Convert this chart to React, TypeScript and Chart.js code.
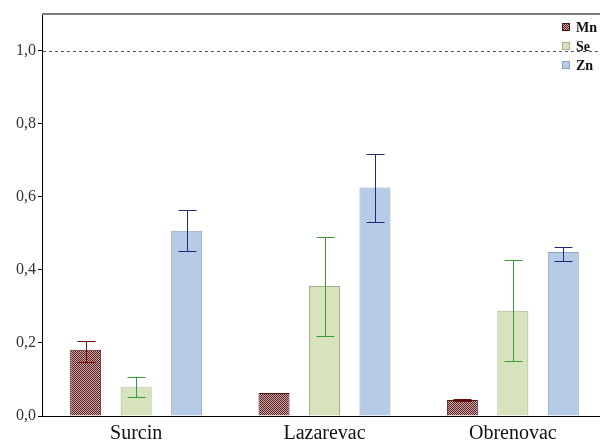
import React, { useEffect, useRef } from "react";
import { Chart, registerables } from "chart.js";

Chart.register(...registerables);

const categories = ["Surcin", "Lazarevac", "Obrenovac"];
const seriesNames = ["Mn", "Se", "Zn"];

const mnValues = [0.181, 0.063, 0.044];
const seValues = [0.079, 0.356, 0.288];
const znValues = [0.507, 0.625, 0.449];

const mnLow: (number | null)[] = [0.148, null, 0.042];
const mnHigh: (number | null)[] = [0.205, null, 0.047];
const seLow: (number | null)[] = [0.052, 0.219, 0.151];
const seHigh: (number | null)[] = [0.107, 0.49, 0.427];
const znLow: (number | null)[] = [0.452, 0.53, 0.424];
const znHigh: (number | null)[] = [0.564, 0.718, 0.463];

const yTicks = [0, 0.2, 0.4, 0.6, 0.8, 1.0];
const refLineValue = 1.0;

function makePattern(): CanvasPattern | string {
  const c = document.createElement("canvas");
  c.width = 2;
  c.height = 2;
  const g = c.getContext("2d");
  if (!g) return "#9a5c5c";
  g.fillStyle = "#cca8a8";
  g.fillRect(0, 0, 2, 2);
  g.fillStyle = "#5c2020";
  g.fillRect(0, 0, 1, 1);
  g.fillRect(1, 1, 1, 1);
  const p = g.createPattern(c, "repeat");
  return p || "#9a5c5c";
}

export default function App() {
  const ref = useRef<HTMLCanvasElement | null>(null);

  useEffect(() => {
    if (!ref.current) return;
    const pattern = makePattern();
    const errLows = [mnLow, seLow, znLow];
    const errHighs = [mnHigh, seHigh, znHigh];
    const errColors = ["#7a0a0a", "#3a9a3a", "#1c2a7a"];

    const extras = {
      id: "extras",
      beforeDatasetsDraw(chart: any) {
        const { ctx, chartArea, scales } = chart;
        const y = scales.y.getPixelForValue(refLineValue);
        ctx.save();
        ctx.strokeStyle = "#555";
        ctx.lineWidth = 1;
        ctx.setLineDash([3, 3]);
        ctx.beginPath();
        ctx.moveTo(chartArea.left + 1, Math.round(y) + 0.5);
        ctx.lineTo(chart.width, Math.round(y) + 0.5);
        ctx.stroke();
        ctx.restore();
      },
      afterDatasetsDraw(chart: any) {
        const { ctx, scales } = chart;
        ctx.save();
        chart.data.datasets.forEach((ds: any, i: number) => {
          const meta = chart.getDatasetMeta(i);
          meta.data.forEach((el: any, j: number) => {
            const lo = errLows[i][j];
            const hi = errHighs[i][j];
            if (lo == null || hi == null) return;
            const x = Math.round(el.x) + 0.5;
            const yl = Math.round(scales.y.getPixelForValue(lo)) + 0.5;
            const yh = Math.round(scales.y.getPixelForValue(hi)) + 0.5;
            ctx.strokeStyle = errColors[i];
            ctx.lineWidth = 1;
            ctx.beginPath();
            ctx.moveTo(x, yl);
            ctx.lineTo(x, yh);
            ctx.moveTo(x - 9, yh);
            ctx.lineTo(x + 9, yh);
            ctx.moveTo(x - 9, yl);
            ctx.lineTo(x + 9, yl);
            ctx.stroke();
          });
        });
        ctx.restore();
      },
      afterDraw(chart: any) {
        const { ctx, chartArea } = chart;
        ctx.save();
        ctx.strokeStyle = "#7a7a7a";
        ctx.lineWidth = 2;
        ctx.beginPath();
        ctx.moveTo(chartArea.left, chartArea.top);
        ctx.lineTo(chart.width, chartArea.top);
        ctx.stroke();
        const fills = chart.data.datasets.map((d: any) => d.backgroundColor);
        const borders = chart.data.datasets.map((d: any) => d.borderColor);
        ctx.font = "bold 14px 'Liberation Serif', 'Times New Roman', serif";
        ctx.textBaseline = "middle";
        ctx.textAlign = "left";
        chart.data.datasets.forEach((d: any, i: number) => {
          const cy = 27 + i * 19;
          ctx.fillStyle = fills[i];
          ctx.fillRect(562, cy - 4, 8, 8);
          ctx.strokeStyle = borders[i];
          ctx.lineWidth = 1;
          ctx.strokeRect(562.5, cy - 3.5, 7, 7);
          ctx.fillStyle = "#111";
          ctx.fillText(d.label, 576, cy + 1);
        });
        ctx.restore();
      },
    };

    const chart = new Chart(ref.current, {
      type: "bar",
      data: {
        labels: categories,
        datasets: [
          {
            label: seriesNames[0],
            data: mnValues,
            backgroundColor: pattern as any,
            borderColor: "#4a1414",
            borderWidth: 1,
          },
          {
            label: seriesNames[1],
            data: seValues,
            backgroundColor: "#d6e3bd",
            borderColor: "#a2b28a",
            borderWidth: 1,
          },
          {
            label: seriesNames[2],
            data: znValues,
            backgroundColor: "#b6cbe5",
            borderColor: "#8ea2bd",
            borderWidth: 1,
          },
        ],
      },
      options: {
        responsive: false,
        animation: false,
        datasets: { bar: { categoryPercentage: 0.804, barPercentage: 0.614 } },
        layout: { padding: { top: 14, right: 8, left: 0, bottom: 0 } },
        plugins: { legend: { display: false }, tooltip: { enabled: false } },
        scales: {
          x: {
            grid: { display: false, drawTicks: false },
            border: { display: true, color: "#000", width: 1 },
            ticks: {
              color: "#111",
              padding: 6,
              font: { family: "'Liberation Serif', 'Times New Roman', serif", size: 20 },
              maxRotation: 0,
            },
            afterFit(scale: any) {
              scale.height = 26;
            },
          },
          y: {
            min: 0,
            max: 1.1,
            afterBuildTicks(scale: any) {
              scale.ticks = yTicks.map((v) => ({ value: v }));
            },
            grid: { drawOnChartArea: false, drawTicks: true, tickLength: 4, color: "#000" },
            border: { display: true, color: "#000", width: 1 },
            ticks: {
              color: "#333",
              padding: 2,
              font: { family: "'Liberation Serif', 'Times New Roman', serif", size: 16 },
              callback: (v: any) => Number(v).toFixed(1).replace(".", ","),
            },
            afterFit(scale: any) {
              scale.width = 42;
            },
          },
        },
      },
      plugins: [extras],
    });
    return () => chart.destroy();
  }, []);

  return (
    <div
      style={{
        position: "fixed",
        left: 0,
        top: 0,
        width: 600,
        height: 442,
        overflow: "hidden",
        background: "#fff",
      }}
    >
      <canvas ref={ref} width={615} height={442} style={{ display: "block" }} />
    </div>
  );
}
